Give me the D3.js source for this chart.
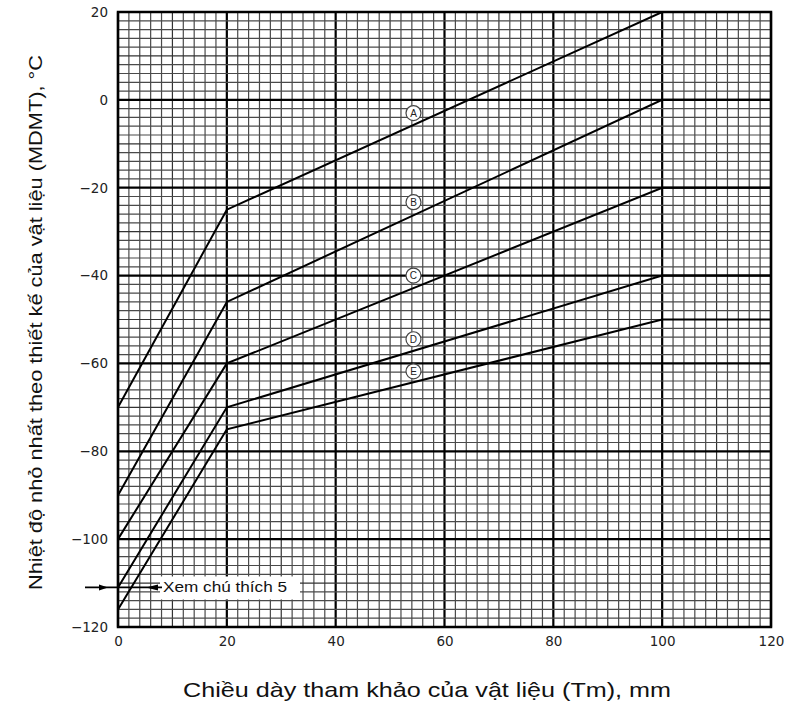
<!DOCTYPE html>
<html>
<head>
<meta charset="utf-8">
<script src="https://cdn.jsdelivr.net/npm/d3@7"></script>
<style>
  body { margin: 0; background: #fff; }
  svg { display: block; font-family: "Liberation Sans", Arial, sans-serif; }
</style>
</head>
<body>
<div class="container"></div>
<script>
var width = 787;
var height = 706;
var margin = {top: 12, right: 16, bottom: 79, left: 118};
var innerWidth = width - margin.left - margin.right;
var innerHeight = height - margin.top - margin.bottom;

// values
var thickness = [0, 20, 100, 120];
var curveNames = ['A', 'B', 'C', 'D', 'E'];
var curveA = [-70, -25, 20, 20];
var curveB = [-90, -46, 0, 0];
var curveC = [-100, -60, -20, -20];
var curveD = [-111, -70, -40, -40];
var curveE = [-116, -75, -50, -50];
var curves = [curveA, curveB, curveC, curveD, curveE];
var labelX = 54.3;
var labelY = [-3, -23.3, -40, -54.5, -61.8];
var xTicks = [0, 20, 40, 60, 80, 100, 120];
var yTicks = [20, 0, -20, -40, -60, -80, -100, -120];
var noteY = -111;
var noteText = 'Xem chú thích 5';

var XScale = d3.scaleLinear().domain([0, 120]).range([0, innerWidth]);
var YScale = d3.scaleLinear().domain([-120, 20]).range([innerHeight, 0]);

var translate = function(x, y) {
    return 'translate(' + x + ',' + y + ')';
};

var svg = d3.select('.container').append('svg')
    .attr('width', width)
    .attr('height', height);

var plot = svg.append('g').attr('transform', translate(margin.left, margin.top));

// graph paper grid, every 2 units
var minorX = d3.range(0, 121, 2);
var minorY = d3.range(-120, 21, 2);
var gridWidth = function(d) { return d % 20 === 0 ? 2.2 : 1.2; };
var gridColor = function(d) { return d % 20 === 0 ? '#000' : (d % 10 === 0 ? '#333' : '#4a4a4a'); };

plot.append('g').selectAll('line').data(minorX).enter().append('line')
    .attr('x1', function(d) { return XScale(d); })
    .attr('x2', function(d) { return XScale(d); })
    .attr('y1', 0).attr('y2', innerHeight)
    .attr('stroke-width', gridWidth)
    .attr('stroke', gridColor);

plot.append('g').selectAll('line').data(minorY).enter().append('line')
    .attr('y1', function(d) { return YScale(d); })
    .attr('y2', function(d) { return YScale(d); })
    .attr('x1', 0).attr('x2', innerWidth)
    .attr('stroke-width', gridWidth)
    .attr('stroke', gridColor);

plot.append('rect')
    .attr('width', innerWidth).attr('height', innerHeight)
    .attr('fill', 'none').attr('stroke', '#000').attr('stroke-width', 2.5);

// axes (labels only, the frame is the grid)
var xAxis = d3.axisBottom(XScale).tickValues(xTicks).tickSize(0).tickPadding(9);
var yAxis = d3.axisLeft(YScale).tickValues(yTicks).tickSize(0).tickPadding(10);

plot.append('g').attr('transform', translate(0, innerHeight)).call(xAxis)
    .call(function(g) { g.select('.domain').remove(); })
    .selectAll('text').attr('font-size', 13.5).attr('fill', '#222')
    .attr('font-family', '"DejaVu Sans", sans-serif');

plot.append('g').call(yAxis)
    .call(function(g) { g.select('.domain').remove(); })
    .selectAll('text').attr('font-size', 13.5).attr('fill', '#222')
    .attr('font-family', '"DejaVu Sans", sans-serif');

// curves
var line = d3.line()
    .x(function(d, i) { return XScale(thickness[i]); })
    .y(function(d) { return YScale(d); });

plot.append('g').selectAll('path').data(curves).enter().append('path')
    .attr('d', line)
    .attr('fill', 'none')
    .attr('stroke', '#000')
    .attr('stroke-width', 2);

// curve labels
var labels = plot.append('g').selectAll('g').data(curveNames).enter().append('g')
    .attr('transform', function(d, i) { return translate(XScale(labelX), YScale(labelY[i])); });
labels.append('circle').attr('r', 7.5)
    .attr('fill', '#fff').attr('stroke', '#444').attr('stroke-width', 1.2);
labels.append('text').text(function(d) { return d; })
    .attr('text-anchor', 'middle').attr('dy', '0.36em')
    .attr('font-size', 10).attr('fill', '#222');

// note 5 annotation
var ny = YScale(noteY);
var note = svg.append('g').attr('transform', translate(0, margin.top));
note.append('rect')
    .attr('x', margin.left + 42).attr('y', ny - 11)
    .attr('width', 140).attr('height', 23)
    .attr('fill', '#fff');
note.append('line')
    .attr('x1', margin.left - 33).attr('x2', margin.left + 44)
    .attr('y1', ny).attr('y2', ny)
    .attr('stroke', '#000').attr('stroke-width', 1.8);
note.append('path')
    .attr('d', 'M' + (margin.left - 10) + ',' + ny + 'l-9,-3l0,6z')
    .attr('fill', '#000');
note.append('path')
    .attr('d', 'M' + (margin.left + 28) + ',' + ny + 'l12,-3l0,6z')
    .attr('fill', '#000');
note.append('text')
    .attr('x', margin.left + 45).attr('y', ny + 5)
    .attr('font-size', 14).attr('fill', '#111')
    .attr('textLength', 124).attr('lengthAdjust', 'spacingAndGlyphs')
    .text(noteText);

// axis titles
svg.append('text')
    .attr('x', 183).attr('y', 697)
    .attr('font-size', 21).attr('fill', '#111')
    .attr('textLength', 488).attr('lengthAdjust', 'spacingAndGlyphs')
    .text('Chiều dày tham khảo của vật liệu (Tm), mm');

svg.append('text')
    .attr('transform', translate(42, 590) + ' rotate(-90)')
    .attr('font-size', 18).attr('fill', '#111')
    .attr('textLength', 535).attr('lengthAdjust', 'spacingAndGlyphs')
    .text('Nhiệt độ nhỏ nhất theo thiết kế của vật liệu (MDMT), °C');
</script>
</body>
</html>
